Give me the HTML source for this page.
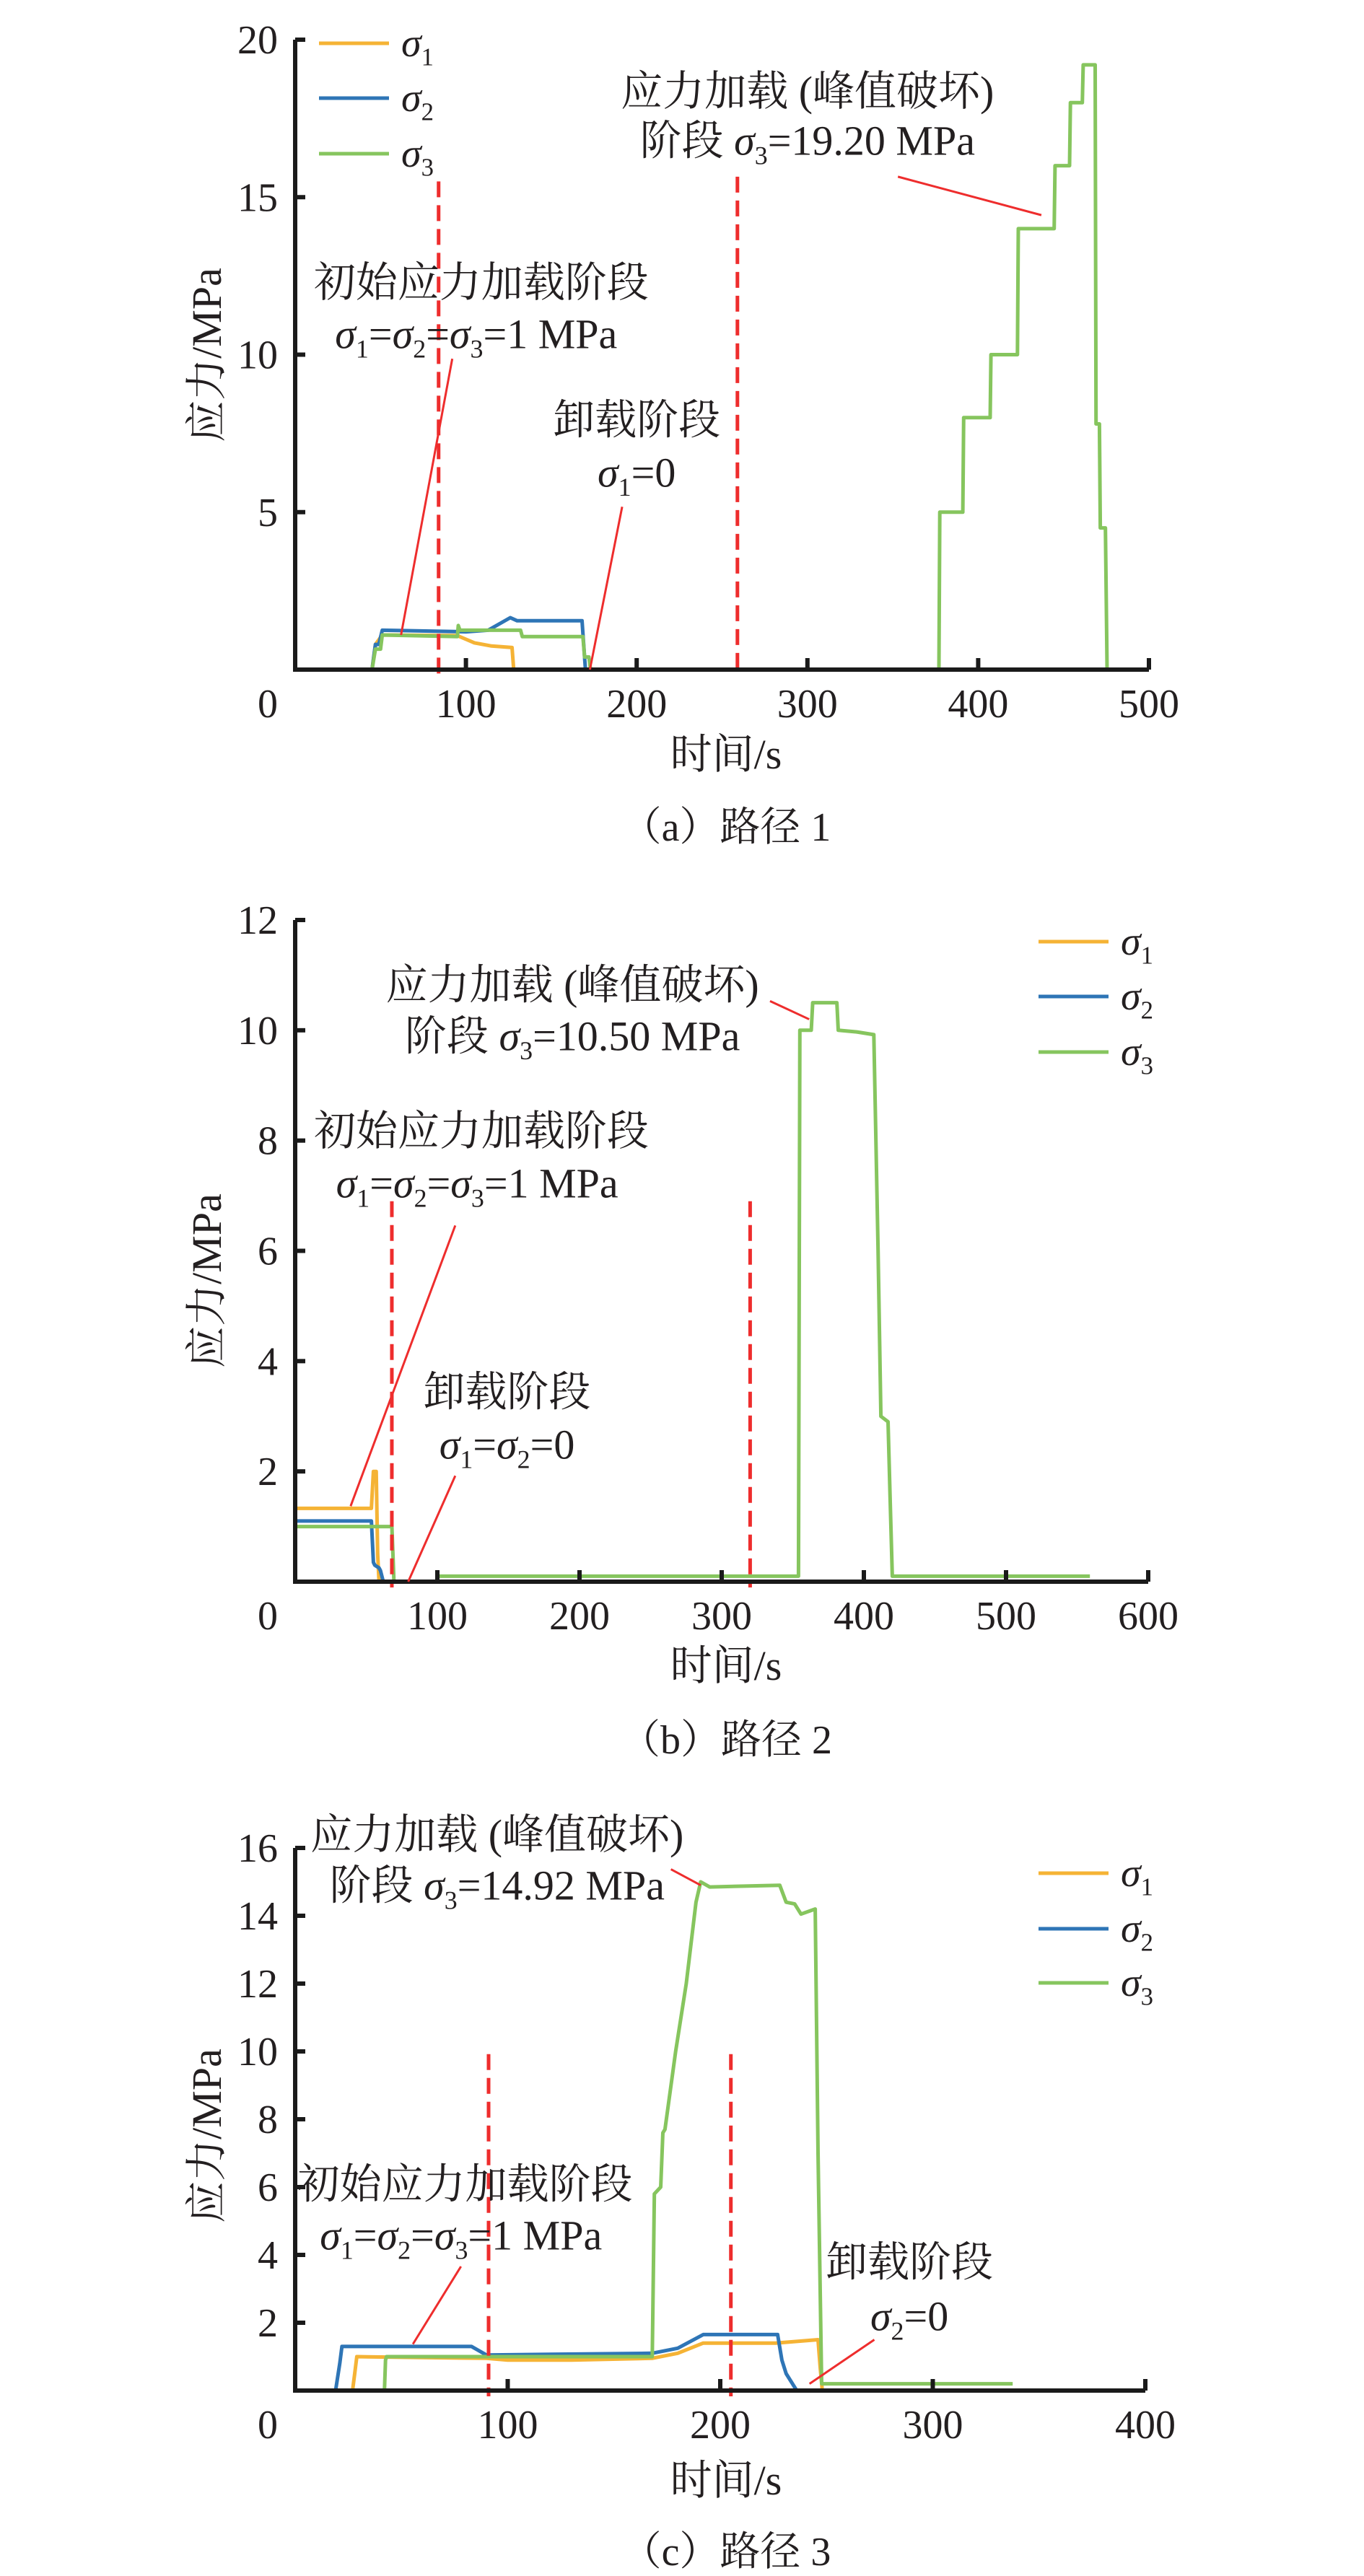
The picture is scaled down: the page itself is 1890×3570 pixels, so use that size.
<!DOCTYPE html>
<html><head><meta charset="utf-8">
<style>
html,body{margin:0;padding:0;background:#fff;}
svg{display:block;}
text{font-family:"Liberation Serif","Noto Serif CJK SC",serif;fill:#231f20;}
</style></head>
<body>
<svg id="fig" xmlns="http://www.w3.org/2000/svg" width="1890" height="3570" viewBox="0 0 1890 3570"></svg>
<script>
// ---------- Chart (a) data ----------
const aXTicks = [100, 200, 300, 400, 500];
const aYTicks = [5, 10, 15, 20];
const aS1t = [35, 45, 47, 51, 95, 105, 115, 127, 128, 175, 475];
const aS1v = [0, 0, 0.8, 1.1, 1.08, 0.85, 0.75, 0.7, 0, 0, 0];
const aS2t = [35, 45, 47, 49, 51, 100, 113, 126, 130, 168, 170, 175];
const aS2v = [0, 0, 0.8, 0.8, 1.25, 1.2, 1.25, 1.65, 1.55, 1.55, 0, 0];
const aS3t = [45, 47, 50, 51, 95, 95.5, 96.5, 132, 133, 168.5, 169.5, 172, 173, 377, 377.5, 391, 391.5, 407, 407.5, 423, 423.5, 444.5, 445, 453.5, 454, 461, 461.5, 468.5, 469, 471, 471.5, 474.5, 475.5];
const aS3v = [0, 0.65, 0.65, 1.1, 1.05, 1.4, 1.25, 1.25, 1.05, 1.05, 0.4, 0.4, 0, 0, 5, 5, 8, 8, 10, 10, 14, 14, 16, 16, 18, 18, 19.2, 19.2, 7.8, 7.8, 4.5, 4.5, 0];
const aDashT = [84, 259];
const aDashTop = [15.5, 15.65];

// ---------- Chart (b) data ----------
const bXTicks = [100, 200, 300, 400, 500, 600];
const bYTicks = [2, 4, 6, 8, 10, 12];
const bS1t = [0, 53.6, 55, 57, 58, 59];
const bS1v = [1.33, 1.33, 2.0, 2.0, 0.5, 0];
const bS2t = [0, 53.6, 55, 56, 59, 60, 62];
const bS2v = [1.1, 1.1, 0.35, 0.3, 0.25, 0.2, 0];
const bS3t = [0, 68, 69.5, 69.6, 101, 354, 355, 363, 364, 381, 382, 395, 407, 410, 412, 417, 418.5, 420, 559];
const bS3v = [1.0, 1.0, 0, null, 0.1, 0.1, 10, 10, 10.5, 10.5, 10, 9.97, 9.92, 6, 3.0, 2.9, 1.5, 0.1, 0.1];
const bDashT = [68, 320];
const bDashTop = [6.9, 6.9];

// ---------- Chart (c) data ----------
const cXTicks = [100, 200, 300, 400];
const cYTicks = [2, 4, 6, 8, 10, 12, 14, 16];
const cS1t = [25, 27, 28, 29, 50, 90, 100, 130, 168, 180, 192, 226, 246, 247, 248];
const cS1v = [0, 0, 0.5, 1.0, 0.98, 0.95, 0.9, 0.9, 0.95, 1.1, 1.4, 1.4, 1.5, 0.7, 0];
const cS2t = [19, 21, 22, 83, 90, 168, 180, 192, 227, 229, 231, 236];
const cS2v = [0, 0.8, 1.3, 1.3, 1.05, 1.1, 1.25, 1.65, 1.65, 0.9, 0.5, 0];
const cS3t = [42, 42.5, 43, 168, 169, 172, 173, 174, 179, 184, 188.6, 190.8, 195, 228, 231, 235, 238, 244.7, 246, 247.7, 337.6];
const cS3v = [0, 0.9, 1.0, 1.0, 5.8, 6.0, 7.6, 7.7, 10, 12, 14.4, 15.0, 14.85, 14.9, 14.4, 14.35, 14.05, 14.2, 7, 0.2, 0.2];
const cDashT = [91, 205];
const cDashTop = [9.92, 9.92];

const NS = "http://www.w3.org/2000/svg";
const svg = document.getElementById('fig');
const COLORS = ['#f5b335', '#2e75b6', '#86c55e'];

function mk(tag, attrs, parent) {
  const e = document.createElementNS(NS, tag);
  for (const k in attrs) e.setAttribute(k, attrs[k]);
  (parent || svg).appendChild(e);
  return e;
}
function sigmaText(parent, x, y, parts, size, anchor) {
  // parts: array of [text, kind] kind: 'n' normal, 'i' italic, 's' subscript
  const t = mk('text', {x: x, y: y, 'font-size': size, 'text-anchor': anchor || 'middle'}, parent);
  let sub = false;
  parts.forEach(p => {
    const ts = document.createElementNS(NS, 'tspan');
    if (p[1] === 'i') ts.setAttribute('font-style', 'italic');
    if (p[1] === 's') { ts.setAttribute('font-size', size * 0.62); ts.setAttribute('dy', size * 0.22); sub = true; }
    else if (sub) { ts.setAttribute('dy', -size * 0.22); sub = false; }
    ts.textContent = p[0];
    t.appendChild(ts);
  });
  return t;
}

function drawChart(cfg) {
  const g = mk('g', {});
  
  
  const X = t => cfg.x0 + (t / cfg.xMax) * (cfg.x1 - cfg.x0);
  const Y = v => cfg.y0 - (v / cfg.yMax) * (cfg.y0 - cfg.yTop);

  // series
  cfg.series.forEach((s, i) => {
    let d = '', pen = false;
    for (let k = 0; k < s.t.length; k++) {
      if (s.v[k] === null) { pen = false; continue; }
      d += (pen ? 'L' : 'M') + X(s.t[k]).toFixed(1) + ' ' + Y(s.v[k]).toFixed(1) + ' ';
      pen = true;
    }
    const p = mk('path', {d: d, fill: 'none', stroke: COLORS[i], 'stroke-width': 5, 'stroke-linejoin': 'round'}, g);
    
    
  });

  // dashed stage lines
  cfg.dashT.forEach((t, i) => {
    const l = mk('line', {x1: X(t), x2: X(t), y1: Y(cfg.dashTop[i]), y2: cfg.y0 + 8, stroke: '#ee2d2d', 'stroke-width': 5, 'stroke-dasharray': '22 11'}, g);
    
    
  });

  // axes
  const ax = mk('path', {d: `M${cfg.x0} ${cfg.yTop} L${cfg.x0} ${cfg.y0} L${cfg.x1} ${cfg.y0}`, fill: 'none', stroke: '#1a1a1a', 'stroke-width': 6}, g);
  
  
  cfg.xTicks.forEach(v => {
    mk('line', {x1: X(v), x2: X(v), y1: cfg.y0, y2: cfg.y0 - 16, stroke: '#1a1a1a', 'stroke-width': 6}, g);
    const t = mk('text', {x: X(v), y: cfg.y0 + 66, 'font-size': 56, 'text-anchor': 'middle'}, g);
    
    
    t.textContent = v;
  });
  cfg.yTicks.forEach(v => {
    mk('line', {x1: cfg.x0, x2: cfg.x0 + 14, y1: Y(v), y2: Y(v), stroke: '#1a1a1a', 'stroke-width': 6}, g);
    const t = mk('text', {x: 385, y: Y(v) + 19, 'font-size': 56, 'text-anchor': 'end'}, g);
    
    
    t.textContent = v;
  });
  const z = mk('text', {x: 371, y: cfg.y0 + 66, 'font-size': 56, 'text-anchor': 'middle'}, g);
  
  
  z.textContent = '0';

  // axis titles
  const xt = mk('text', {x: 1006, y: cfg.xTitleY, 'font-size': 58, 'text-anchor': 'middle'}, g);
  
  
  xt.textContent = '时间/s';
  const yt = mk('text', {x: 0, y: 0, 'font-size': 58, 'text-anchor': 'middle', transform: `translate(306 ${cfg.yTitleY}) rotate(-90)`}, g);
  
  
  yt.textContent = '应力/MPa';
  const cap = mk('text', {x: 1006, y: cfg.capY, 'font-size': 56, 'text-anchor': 'middle'}, g);
  
  
  cap.textContent = cfg.caption;

  // annotation pointer lines
  cfg.pointers.forEach((p, i) => {
    const l = mk('line', {x1: X(p[0]), y1: Y(p[1]), x2: X(p[2]), y2: Y(p[3]), stroke: '#ee2d2d', 'stroke-width': 3}, g);
    
    
  });
  // annotation texts
  cfg.notes.forEach(n => {
    let t;
    if (typeof n.parts === 'string') {
      t = mk('text', {x: X(n.t), y: Y(n.v) + 20, 'font-size': 58, 'text-anchor': 'middle'}, g);
      t.textContent = n.parts;
    } else {
      t = sigmaText(g, X(n.t), Y(n.v) + 20, n.parts, 58, 'middle');
    }
    
    
  });

  // legend
  const lg = mk('g', {}, g);
  
  
  cfg.legendY.forEach((y, i) => {
    const l = mk('line', {x1: cfg.legX, x2: cfg.legX + 97, y1: y, y2: y, stroke: COLORS[i], 'stroke-width': 5}, lg);
    
    
    const t = sigmaText(lg, cfg.legX + 114, y + 18, [['σ', 'i'], [String(i + 1), 's']], 56, 'start');
    
    
  });
}

const eq1 = [['σ','i'],['1','s'],['=','n'],['σ','i'],['2','s'],['=','n'],['σ','i'],['3','s'],['=1 MPa','n']];

drawChart({
  name: 'chart-path-1', x0: 409, x1: 1592, y0: 928, yTop: 55, xMax: 500, yMax: 20,
  xTicks: aXTicks, yTicks: aYTicks,
  series: [{t: aS1t, v: aS1v}, {t: aS2t, v: aS2v}, {t: aS3t, v: aS3v}],
  dashT: aDashT, dashTop: aDashTop,
  xTitleY: 1065, yTitleY: 492, capY: 1165, caption: '（a）路径 1',
  pointers: [[92, 9.87, 62, 1.1], [191.5, 5.17, 172.6, 0], [353, 15.65, 437, 14.43]],
  notes: [
    {t: 300, v: 18.37, parts: '应力加载 (峰值破坏)', name: 'peak-annotation-line1'},
    {t: 300, v: 16.8, parts: [['阶段 ','n'],['σ','i'],['3','s'],['=19.20 MPa','n']], name: 'peak-annotation-line2'},
    {t: 109, v: 12.3, parts: '初始应力加载阶段', name: 'initial-annotation-line1'},
    {t: 106, v: 10.66, parts: eq1, name: 'initial-annotation-line2'},
    {t: 200, v: 7.94, parts: '卸载阶段', name: 'unload-annotation-line1'},
    {t: 200, v: 6.27, parts: [['σ','i'],['1','s'],['=0','n']], name: 'unload-annotation-line2'}
  ],
  legX: 442, legendY: [60, 136, 213]
});

drawChart({
  name: 'chart-path-2', x0: 409, x1: 1591, y0: 2192, yTop: 1275, xMax: 600, yMax: 12,
  xTicks: bXTicks, yTicks: bYTicks,
  series: [{t: bS1t, v: bS1v}, {t: bS2t, v: bS2v}, {t: bS3t, v: bS3v}],
  dashT: bDashT, dashTop: bDashTop,
  xTitleY: 2328, yTitleY: 1775, capY: 2430, caption: '（b）路径 2',
  pointers: [[112.6, 6.46, 39, 1.37], [112.6, 1.92, 79.5, 0], [334, 10.53, 361.5, 10.2]],
  notes: [
    {t: 195, v: 10.83, parts: '应力加载 (峰值破坏)', name: 'peak-annotation-line1'},
    {t: 195, v: 9.9, parts: [['阶段 ','n'],['σ','i'],['3','s'],['=10.50 MPa','n']], name: 'peak-annotation-line2'},
    {t: 131, v: 8.18, parts: '初始应力加载阶段', name: 'initial-annotation-line1'},
    {t: 128, v: 7.23, parts: eq1, name: 'initial-annotation-line2'},
    {t: 149, v: 3.45, parts: '卸载阶段', name: 'unload-annotation-line1'},
    {t: 149, v: 2.49, parts: [['σ','i'],['1','s'],['=','n'],['σ','i'],['2','s'],['=0','n']], name: 'unload-annotation-line2'}
  ],
  legX: 1439, legendY: [1305, 1381, 1458]
});

drawChart({
  name: 'chart-path-3', x0: 409, x1: 1587, y0: 3313, yTop: 2561, xMax: 400, yMax: 16,
  xTicks: cXTicks, yTicks: cYTicks,
  series: [{t: cS1t, v: cS1v}, {t: cS2t, v: cS2v}, {t: cS3t, v: cS3v}],
  dashT: cDashT, dashTop: cDashTop,
  xTitleY: 3457, yTitleY: 2960, capY: 3555, caption: '（c）路径 3',
  pointers: [[78, 3.66, 55.4, 1.37], [272.5, 1.5, 242, 0.2], [176.8, 15.37, 190.8, 14.9]],
  notes: [
    {t: 95, v: 16.4, parts: '应力加载 (峰值破坏)', name: 'peak-annotation-line1'},
    {t: 95, v: 14.9, parts: [['阶段 ','n'],['σ','i'],['3','s'],['=14.92 MPa','n']], name: 'peak-annotation-line2'},
    {t: 80, v: 6.1, parts: '初始应力加载阶段', name: 'initial-annotation-line1'},
    {t: 78, v: 4.58, parts: eq1, name: 'initial-annotation-line2'},
    {t: 289, v: 3.8, parts: '卸载阶段', name: 'unload-annotation-line1'},
    {t: 289, v: 2.2, parts: [['σ','i'],['2','s'],['=0','n']], name: 'unload-annotation-line2'}
  ],
  legX: 1439, legendY: [2596, 2673, 2748]
});
</script>
</body></html>
